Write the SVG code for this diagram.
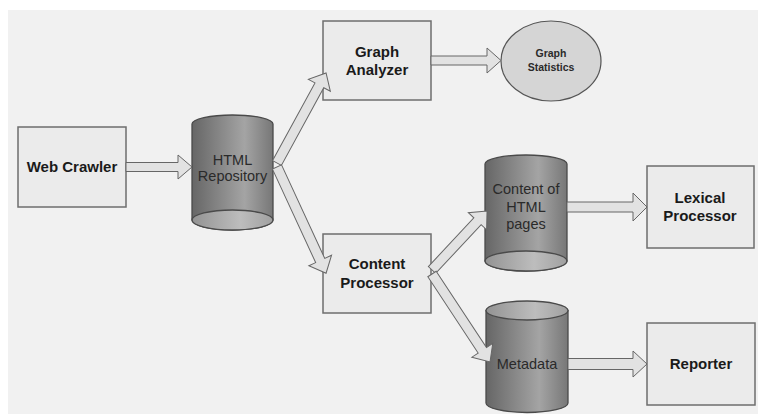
<svg xmlns="http://www.w3.org/2000/svg" width="758" height="414" viewBox="0 0 758 414">
  <defs>
    <linearGradient id="cylBody" x1="0" y1="0" x2="1" y2="0">
      <stop offset="0" stop-color="#666666"/>
      <stop offset="0.65" stop-color="#a4a4a4"/>
      <stop offset="1" stop-color="#777777"/>
    </linearGradient>
    <linearGradient id="cylCap" x1="0" y1="0" x2="1" y2="0">
      <stop offset="0" stop-color="#939393"/>
      <stop offset="0.6" stop-color="#bdbdbd"/>
      <stop offset="1" stop-color="#a0a0a0"/>
    </linearGradient>
  </defs>
  <style>
    .box { fill: #ebebeb; stroke: #6e6e6e; stroke-width: 1.5; }
    .cyl { fill: url(#cylBody); stroke: #4a4a4a; stroke-width: 1.3; }
    .cap { fill: url(#cylCap); stroke: #4a4a4a; stroke-width: 1.3; }
    .arrow { fill: #e2e2e2; stroke: #666666; stroke-width: 1; stroke-linejoin: miter; }
    .lbl { font-family: "Liberation Sans", Arial, sans-serif; font-weight: bold; font-size: 15px; fill: #1a1a1a; text-anchor: middle; }
    .clbl { font-family: "Liberation Sans", Arial, sans-serif; font-size: 14.5px; fill: #2a2a2a; text-anchor: middle; }
    .slbl { font-family: "Liberation Sans", Arial, sans-serif; font-weight: bold; font-size: 10.5px; fill: #2a2a2a; text-anchor: middle; }
  </style>
  <rect x="0" y="0" width="758" height="414" fill="#ffffff"/>
  <rect x="8" y="10" width="750" height="404" fill="#f1f1f1"/>

  <g id="web-crawler">
    <rect class="box" x="18" y="127" width="108" height="80"/>
    <text class="lbl" x="72" y="172">Web Crawler</text>
  </g>

  <g id="html-repository">
    <path class="cyl" d="M192,124 A40.5,9 0 0 1 273,124 L273,220 A40.5,10 0 0 1 192,220 Z"/>
    <ellipse class="cap" cx="232.5" cy="220" rx="40.5" ry="10"/>
    <text class="clbl" x="232.5" y="165">HTML</text>
    <text class="clbl" x="232.5" y="181">Repository</text>
  </g>

  <g id="graph-analyzer">
    <rect class="box" x="323" y="21" width="108" height="79"/>
    <text class="lbl" x="377" y="57">Graph</text>
    <text class="lbl" x="377" y="75">Analyzer</text>
  </g>

  <g id="graph-statistics">
    <ellipse cx="551" cy="61" rx="50" ry="40" fill="#d5d5d5" stroke="#555555" stroke-width="1.2"/>
    <text class="slbl" x="551" y="57">Graph</text>
    <text class="slbl" x="551" y="71">Statistics</text>
  </g>

  <g id="content-processor">
    <rect class="box" x="323" y="234" width="108" height="79"/>
    <text class="lbl" x="377" y="269">Content</text>
    <text class="lbl" x="377" y="288">Processor</text>
  </g>

  <g id="content-of-html-pages">
    <path class="cyl" d="M485,164 A41,9 0 0 1 567,164 L567,261 A41,10 0 0 1 485,261 Z"/>
    <ellipse class="cap" cx="526" cy="261" rx="41" ry="10"/>
    <text class="clbl" x="526" y="194">Content of</text>
    <text class="clbl" x="526" y="212">HTML</text>
    <text class="clbl" x="526" y="229">pages</text>
  </g>

  <g id="metadata">
    <path class="cyl" d="M486,310.5 L486,403 A41,9.5 0 0 0 568,403 L568,310.5 Z"/>
    <ellipse class="cap" cx="527" cy="310.5" rx="41" ry="9.5"/>
    <text class="clbl" x="527" y="369">Metadata</text>
  </g>

  <g id="lexical-processor">
    <rect class="box" x="647" y="166" width="107" height="82"/>
    <text class="lbl" x="700" y="203">Lexical</text>
    <text class="lbl" x="700" y="221">Processor</text>
  </g>

  <g id="reporter">
    <rect class="box" x="647" y="323" width="108" height="82"/>
    <text class="lbl" x="701" y="369">Reporter</text>
  </g>

  <g id="connectors">
    <polygon class="arrow" points="126,162.5 178,162.5 178,155 192,167 178,179 178,171.5 126,171.5"/>
    <polygon class="arrow" points="431,56 487,56 487,48 501,60.5 487,73 487,65 431,65"/>
    <polygon class="arrow" points="567,202 633,202 633,193 647,207 633,221 633,212 567,212"/>
    <polygon class="arrow" points="568,358.5 633,358.5 633,351 647,364 633,377 633,369.5 568,369.5"/>
    <polygon class="arrow" transform="translate(277,163) rotate(-61.4)" points="0,-5 88.5,-5 88.5,-12.5 102.5,0 88.5,12.5 88.5,5 0,5"/>
    <polygon class="arrow" transform="translate(277,167) rotate(65.2)" points="0,-5 103,-5 103,-12.5 117,0 103,12.5 103,5 0,5"/>
    <polygon class="arrow" transform="translate(432,270) rotate(-47)" points="0,-5 66.7,-5 66.7,-12.5 80.7,0 66.7,12.5 66.7,5 0,5"/>
    <polygon class="arrow" transform="translate(432,274) rotate(56.6)" points="0,-5 91.4,-5 91.4,-12.5 105.4,0 91.4,12.5 91.4,5 0,5"/>
  </g>
</svg>
